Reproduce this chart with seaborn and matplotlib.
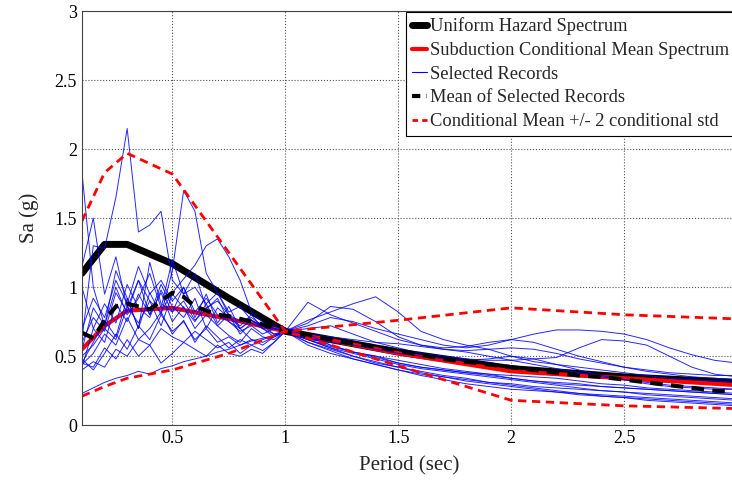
import numpy as np
import pandas as pd
import matplotlib
matplotlib.use("Agg")
import matplotlib.pyplot as plt
from matplotlib.lines import Line2D
import seaborn as sns

# ── spectra data ────────────────────────────────────────────────────────────
target_periods = [0.1, 0.2, 0.3, 0.5, 0.75, 1.0, 1.5, 2.0, 2.5, 3.0]
uhs = [1.10, 1.31, 1.31, 1.17, 0.92, 0.68, 0.53, 0.41, 0.35, 0.31]
cms = [0.55, 0.72, 0.83, 0.85, 0.77, 0.68, 0.52, 0.39, 0.34, 0.29]
cms_band_a = [1.48, 1.83, 1.97, 1.82, 1.25, 0.68, 0.43, 0.18, 0.14, 0.12]
cms_band_b = [0.21, 0.28, 0.34, 0.40, 0.52, 0.68, 0.76, 0.85, 0.80, 0.77]

rec_periods = [0.1, 0.15, 0.2, 0.25, 0.3, 0.35, 0.4, 0.45, 0.5, 0.55, 0.6, 0.65,
               0.7, 0.75, 0.8, 0.85, 0.9, 0.95, 1.0,
               1.1, 1.2, 1.3, 1.4, 1.5, 1.6, 1.7, 1.8, 1.9, 2.0,
               2.1, 2.2, 2.3, 2.4, 2.5, 2.6, 2.7, 2.8, 2.9, 3.0]

rec01 = [0.62, 1.30, 1.28, 1.65, 2.15, 1.40, 1.45, 1.55, 1.05, 0.95, 1.10, 0.85, 0.90, 0.80, 0.75, 0.78, 0.72, 0.70, 0.68,
         0.62, 0.57, 0.53, 0.50, 0.47, 0.44, 0.41, 0.39, 0.37, 0.34, 0.32, 0.30, 0.29, 0.28, 0.27, 0.26, 0.25, 0.24, 0.23, 0.22]
rec02 = [1.83, 1.00, 0.72, 1.12, 0.92, 0.70, 1.18, 0.88, 0.82, 1.00, 0.78, 0.95, 0.74, 0.86, 0.70, 0.76, 0.72, 0.66, 0.68,
         0.89, 0.80, 0.74, 0.68, 0.62, 0.58, 0.56, 0.57, 0.60, 0.62, 0.60, 0.55, 0.50, 0.46, 0.42, 0.39, 0.37, 0.35, 0.34, 0.33]
rec03 = [0.45, 0.60, 0.76, 0.64, 0.92, 0.70, 0.96, 0.80, 1.12, 1.70, 1.55, 1.10, 0.96, 0.80, 0.70, 0.62, 0.58, 0.64, 0.68,
         0.66, 0.58, 0.53, 0.50, 0.45, 0.42, 0.40, 0.38, 0.36, 0.34, 0.32, 0.31, 0.30, 0.28, 0.27, 0.26, 0.25, 0.24, 0.23, 0.22]
rec04 = [1.15, 1.50, 0.95, 1.22, 0.85, 1.05, 0.80, 0.96, 0.75, 0.86, 0.70, 0.80, 0.72, 0.65, 0.60, 0.70, 0.64, 0.62, 0.68,
         0.62, 0.60, 0.58, 0.55, 0.52, 0.50, 0.48, 0.47, 0.48, 0.50, 0.48, 0.44, 0.40, 0.36, 0.33, 0.30, 0.28, 0.27, 0.26, 0.26]
rec05 = [0.50, 0.58, 0.70, 0.62, 0.86, 0.74, 0.90, 0.82, 0.96, 1.06, 1.16, 1.30, 1.35, 1.22, 1.05, 0.82, 0.75, 0.70, 0.68,
         0.60, 0.54, 0.48, 0.44, 0.40, 0.37, 0.35, 0.33, 0.31, 0.30, 0.28, 0.27, 0.26, 0.25, 0.24, 0.22, 0.21, 0.20, 0.19, 0.18]
rec06 = [0.23, 0.27, 0.31, 0.34, 0.36, 0.39, 0.37, 0.41, 0.43, 0.46, 0.48, 0.50, 0.53, 0.55, 0.58, 0.61, 0.63, 0.65, 0.68,
         0.62, 0.56, 0.50, 0.45, 0.42, 0.39, 0.36, 0.34, 0.31, 0.29, 0.27, 0.25, 0.23, 0.21, 0.20, 0.18, 0.17, 0.16, 0.15, 0.14]
rec07 = [0.45, 0.42, 0.56, 0.48, 0.62, 0.50, 0.58, 0.45, 0.52, 0.60, 0.55, 0.50, 0.58, 0.52, 0.50, 0.55, 0.52, 0.60, 0.68,
         0.76, 0.82, 0.88, 0.93, 0.82, 0.68, 0.62, 0.58, 0.55, 0.50, 0.46, 0.44, 0.42, 0.40, 0.38, 0.36, 0.34, 0.33, 0.32, 0.31]
rec08 = [0.42, 0.70, 0.60, 0.88, 0.75, 0.95, 0.80, 1.02, 0.86, 0.78, 0.92, 0.70, 0.85, 0.78, 0.72, 0.80, 0.70, 0.66, 0.68,
         0.72, 0.78, 0.75, 0.70, 0.66, 0.62, 0.58, 0.56, 0.58, 0.62, 0.66, 0.69, 0.69, 0.68, 0.66, 0.62, 0.56, 0.51, 0.47, 0.45]
rec09 = [0.60, 0.78, 0.68, 0.96, 0.82, 1.05, 0.90, 0.72, 0.95, 0.85, 0.75, 0.88, 0.72, 0.80, 0.66, 0.74, 0.70, 0.64, 0.68,
         0.70, 0.72, 0.66, 0.60, 0.56, 0.52, 0.50, 0.48, 0.47, 0.47, 0.48, 0.49, 0.56, 0.62, 0.61, 0.58, 0.50, 0.42, 0.37, 0.35]
rec10 = [0.48, 0.40, 0.52, 0.66, 0.55, 0.72, 0.62, 0.80, 0.68, 0.75, 0.62, 0.70, 0.60, 0.64, 0.58, 0.62, 0.60, 0.64, 0.68,
         0.64, 0.58, 0.53, 0.49, 0.45, 0.42, 0.40, 0.38, 0.37, 0.36, 0.35, 0.34, 0.32, 0.30, 0.29, 0.27, 0.26, 0.25, 0.24, 0.23]
rec11 = [0.70, 0.92, 0.78, 1.05, 0.88, 1.15, 0.95, 1.05, 0.90, 1.00, 0.82, 0.92, 0.80, 0.75, 0.70, 0.76, 0.72, 0.70, 0.68,
         0.66, 0.64, 0.62, 0.60, 0.59, 0.57, 0.55, 0.53, 0.50, 0.47, 0.44, 0.41, 0.38, 0.35, 0.33, 0.31, 0.29, 0.28, 0.27, 0.26]
rec12 = [0.40, 0.46, 0.42, 0.55, 0.50, 0.62, 0.58, 0.70, 0.64, 0.60, 0.68, 0.62, 0.56, 0.60, 0.52, 0.58, 0.62, 0.65, 0.68,
         0.58, 0.52, 0.48, 0.44, 0.40, 0.36, 0.33, 0.30, 0.28, 0.26, 0.25, 0.24, 0.23, 0.22, 0.21, 0.20, 0.19, 0.18, 0.17, 0.16]
rec13 = [0.55, 0.85, 0.72, 1.00, 0.80, 0.92, 1.10, 0.85, 1.20, 0.95, 1.00, 0.88, 0.96, 0.82, 0.86, 0.76, 0.70, 0.72, 0.68,
         0.74, 0.86, 0.84, 0.75, 0.64, 0.58, 0.55, 0.54, 0.55, 0.56, 0.55, 0.52, 0.48, 0.45, 0.42, 0.40, 0.38, 0.37, 0.36, 0.36]
rec14 = [0.44, 0.52, 0.66, 0.58, 0.78, 0.62, 0.70, 0.82, 0.66, 0.76, 0.60, 0.72, 0.64, 0.56, 0.62, 0.58, 0.54, 0.60, 0.68,
         0.60, 0.55, 0.50, 0.46, 0.42, 0.38, 0.35, 0.32, 0.30, 0.28, 0.26, 0.24, 0.22, 0.21, 0.20, 0.19, 0.18, 0.17, 0.16, 0.15]
rec15 = [1.00, 0.70, 0.88, 0.74, 1.02, 0.85, 0.78, 0.98, 0.82, 0.90, 0.76, 0.84, 0.92, 0.75, 0.68, 0.72, 0.66, 0.70, 0.68,
         0.62, 0.56, 0.52, 0.48, 0.44, 0.41, 0.39, 0.37, 0.35, 0.33, 0.31, 0.29, 0.27, 0.25, 0.24, 0.23, 0.22, 0.21, 0.20, 0.19]

rec_mean = [0.67, 0.63, 0.76, 0.86, 0.88, 0.86, 0.84, 0.90, 0.96, 0.93, 0.86, 0.83, 0.80, 0.79, 0.77, 0.75, 0.73, 0.70, 0.68,
            0.65, 0.62, 0.59, 0.57, 0.54, 0.51, 0.48, 0.46, 0.44, 0.42, 0.40, 0.38, 0.36, 0.35, 0.33, 0.31, 0.29, 0.27, 0.25, 0.24]

records = [rec01, rec02, rec03, rec04, rec05, rec06, rec07, rec08,
           rec09, rec10, rec11, rec12, rec13, rec14, rec15]

legend_labels = ["Uniform Hazard Spectrum", "Subduction Conditional Mean Spectrum",
                 "Selected Records", "Mean of Selected Records",
                 "Conditional Mean +/- 2 conditional std"]

# ── long-form tables ─────────────────────────────────────────────────────────
rec_df = pd.DataFrame({
    "period": np.tile(rec_periods, len(records)),
    "sa": np.concatenate(records),
    "record": np.repeat(np.arange(len(records)), len(rec_periods)),
})
tgt_df = pd.DataFrame({"period": target_periods, "uhs": uhs, "cms": cms,
                       "band_a": cms_band_a, "band_b": cms_band_b})
mean_df = pd.DataFrame({"period": rec_periods, "sa": rec_mean})

# ── plot ─────────────────────────────────────────────────────────────────────
sns.set_style("white")
plt.rcParams["font.family"] = ["Liberation Serif", "DejaVu Serif"]

fig = plt.figure(figsize=(7.32, 4.87), dpi=100)
ax = fig.add_axes([0.112, 0.127, 0.895, 0.850])

sns.lineplot(data=tgt_df, x="period", y="uhs", color="black", lw=5, ax=ax)
sns.lineplot(data=tgt_df, x="period", y="cms", color="red", lw=3, ax=ax)
sns.lineplot(data=rec_df, x="period", y="sa", units="record", estimator=None,
             color="blue", lw=0.7, alpha=0.85, ax=ax, legend=False)
sns.lineplot(data=mean_df, x="period", y="sa", color="black", lw=3, ax=ax,
             linestyle=(0, (3, 2)))
sns.lineplot(data=tgt_df, x="period", y="band_a", color="red", lw=2, ax=ax,
             linestyle=(0, (3, 2)))
sns.lineplot(data=tgt_df, x="period", y="band_b", color="red", lw=2, ax=ax,
             linestyle=(0, (3, 2)))

ax.set_xlim(0.1, 3.0)
ax.set_ylim(0, 3)
ax.set_xticks([0.5, 1, 1.5, 2, 2.5])
ax.set_xticklabels(["0.5", "1", "1.5", "2", "2.5"])
ax.set_yticks([0, 0.5, 1, 1.5, 2, 2.5, 3])
ax.set_yticklabels(["0", "0.5", "1", "1.5", "2", "2.5", "3"])
ax.grid(True, color="#555555", linestyle=":", lw=0.8)
ax.tick_params(direction="in", length=4, labelsize=13, colors="black")
for s in ax.spines.values():
    s.set_color("#444444")
    s.set_linewidth(0.8)

ax.set_xlabel("Period (sec)", fontsize=15, labelpad=7)
ax.set_ylabel("Sa (g)", fontsize=15, labelpad=11)

handles = [
    Line2D([], [], color="black", lw=5),
    Line2D([], [], color="red", lw=3),
    Line2D([], [], color="blue", lw=0.8),
    Line2D([], [], color="black", lw=3, linestyle=(0, (2, 1.5))),
    Line2D([], [], color="red", lw=2, linestyle=(0, (2, 1.5))),
]
leg = ax.legend(handles, legend_labels, loc="upper right", bbox_to_anchor=(0.9955, 0.998),
                fontsize=13.3, frameon=True, fancybox=False, framealpha=1,
                handlelength=0.8, handletextpad=0.15, borderpad=0.3,
                labelspacing=0.36, borderaxespad=0.0)
leg.get_frame().set_edgecolor("black")
leg.get_frame().set_linewidth(0.8)

fig.savefig("out.png", dpi=100)
